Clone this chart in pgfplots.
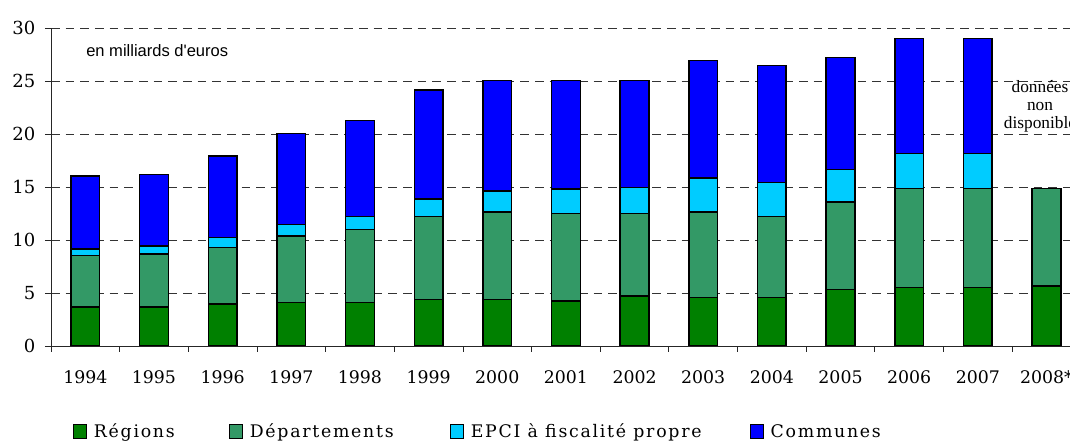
\documentclass[border=0pt]{standalone}
\usepackage{fontspec}
\setmainfont{DejaVu Serif}
\newfontfamily\arialf{Liberation Sans}
\newfontfamily\timesf{Liberation Serif}
\newfontfamily\legendf[LetterSpace=10]{DejaVu Serif}
\usepackage{pgfplots}
\usepackage{pgfplotstable}
\pgfplotsset{compat=1.18}
\definecolor{cReg}{HTML}{008000}
\definecolor{cDep}{HTML}{339966}
\definecolor{cEpci}{HTML}{00CCFF}
\definecolor{cCom}{HTML}{0000FF}
\pgfplotstableread{
x reg dep epci com
0 3.68 4.85 0.63 6.89
1 3.68 5.01 0.75 6.77
2 3.97 5.35 0.91 7.71
3 4.09 6.30 1.07 8.62
4 4.09 6.93 1.19 9.07
5 4.41 7.80 1.67 10.29
6 4.41 8.24 1.99 10.45
7 4.25 8.24 2.34 10.26
8 4.72 7.77 2.50 10.10
9 4.56 8.09 3.21 11.08
10 4.56 7.65 3.21 11.05
11 5.35 8.25 3.08 10.54
12 5.50 9.35 3.31 10.89
13 5.50 9.35 3.31 10.89
14 5.67 9.18 0 0
}\data
\pgfplotsset{sqlegend/.style={legend image code/.code={\draw[##1,draw=black,line width=0.7pt] (0pt,-4.5pt) rectangle (10pt,5.5pt);}}}
\begin{document}
\begin{tikzpicture}
\begin{axis}[
  scale only axis, width=772.35pt, height=238.3pt,
  ybar stacked, bar width=0.418,
  xmin=-0.5, xmax=14.5, ymin=0, ymax=30,
  axis x line*=bottom, axis y line*=left,
  axis line style={black!85, line width=0.7pt},
  xtick={-0.5,0.5,...,14.5},
  x tick label as interval,
  xticklabels={1994,1995,1996,1997,1998,1999,2000,2001,2002,2003,2004,2005,2006,2007,2008*},
  ytick={0,5,...,30},
  ymajorgrids,
  major grid style={black!80, line width=0.6pt, dash pattern=on 6.5pt off 4.5pt},
  tick align=outside, major tick length=4.5pt,
  tick style={black!85, line width=0.6pt},
  /pgf/number format/assume math mode=true,
  yticklabel style={font=\fontsize{13.5}{16}\selectfont, xshift=-3.75pt},
  xticklabel style={font=\fontsize{13}{16}\selectfont, yshift=-10.25pt},
  legend style={draw=none, fill=none, at={(axis description cs:0.02136,-0.2707)}, anchor=west,
    legend columns=4, font=\legendf\fontsize{13}{16}\selectfont,
    /tikz/every odd column/.append style={column sep=5pt},
    /tikz/every even column/.append style={column sep=0pt},
    inner sep=0pt, outer sep=0pt, nodes={inner sep=0pt}},
]
\addplot[fill=cReg, draw=black, line width=1.1pt, sqlegend] table[x=x, y=reg] {\data};
\addplot[fill=cDep, draw=black, line width=1.1pt, sqlegend] table[x=x, y=dep] {\data};
\addplot[fill=cEpci, draw=black, line width=1.1pt, sqlegend] table[x=x, y=epci] {\data};
\addplot[fill=cCom, draw=black, line width=1.1pt, sqlegend] table[x=x, y=com] {\data};
\legend{\makebox[101.25pt][l]{Régions},\makebox[150pt][l]{Départements},\makebox[209.25pt][l]{EPCI à fiscalité propre},Communes}
\node[anchor=base west, inner sep=0pt, font=\arialf\fontsize{12.4}{14}\selectfont] at (axis cs:0.01,27.29) {en milliards d'euros};
\node[align=center, inner sep=0pt, font=\timesf\fontsize{13}{13.5}\selectfont] at (axis cs:13.906,22.6) {données\\non\\disponible};
\end{axis}
\pgfresetboundingbox
\path[use as bounding box] (-38.25pt,-71.25pt) rectangle (764.25pt,259.5pt);
\end{tikzpicture}
\end{document}
